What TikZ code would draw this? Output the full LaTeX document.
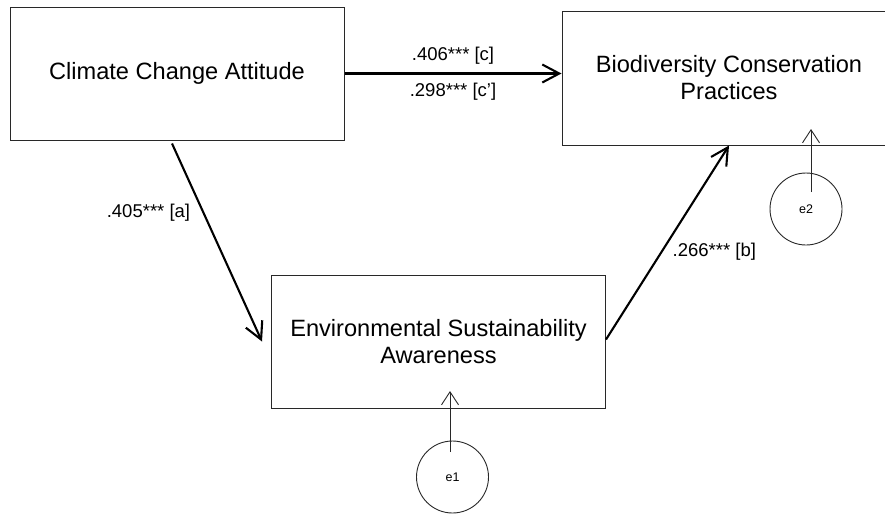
\documentclass[tikz,border=0pt]{standalone}
\usepackage{fontspec}
\setmainfont{Liberation Sans}
\usepackage{tikz}
\usetikzlibrary{
	arrows.meta,
	calc,
	positioning
}
\definecolor{BoxGray}{RGB}{40,40,40}

\begin{document}
\begin{tikzpicture}[x=1pt, y=-1pt,
		varbox/.style={draw=BoxGray, line width=1pt, rectangle, minimum width=334pt, minimum height=133pt, align=center, font=\fontsize{23.6}{27}\selectfont},
		errcirc/.style={draw=BoxGray, line width=0.9pt, circle, minimum size=72pt, inner sep=0pt, font=\fontsize{12.5}{14}\selectfont},
		patharrow/.style={line width=2.1pt, -{Straight Barb[length=17pt, width=18pt, line width=2.1pt]}},
		errarrow/.style={line width=0.9pt, BoxGray, -{Straight Barb[length=13pt, width=17pt, line width=0.9pt]}},
		coef/.style={font=\fontsize{18.5}{22}\selectfont}
	]
		\clip (0,0) rectangle (885,515);
		
		% variables
		\node[varbox] (cca) at (177,73.5) {Climate Change Attitude};
		\node[varbox] (esa) at (438.5,341.5) {Environmental Sustainability\\Awareness};
		\node[varbox, minimum height=134pt] (bcp) at (729,78) {Biodiversity Conservation\\Practices};
		
		% error terms
		\node[errcirc] (e1) at (452.5,477) {e1};
		\node[errcirc] (e2) at (806,209) {e2};
		\coordinate (e1tip) at (450,391);
		\coordinate (e2tip) at (811,129);
		
		% paths
		\draw[patharrow] (cca.east) -- (cca.east -| bcp.west)
			node[coef, midway, above=5pt] {.406*** [c]}
			node[coef, midway, below=5pt] {.298*** [c']};
		\draw[patharrow] ([xshift=-5pt, yshift=-3pt]cca.south) -- ([xshift=-9pt]esa.west)
			node[coef, pos=0.35, left=9pt] {.405*** [a]};
		\draw[patharrow] ([yshift=2pt]esa.east) -- (bcp.south)
			node[coef, pos=0.45, right=7pt] {.266*** [b]};
		
		\draw[errarrow] ($(e1.center)+(-2.5,-25)$) -- (e1tip);
		\draw[errarrow] ($(e2.center)+(5,-17)$) -- (e2tip);
	\end{tikzpicture}
\end{document}
